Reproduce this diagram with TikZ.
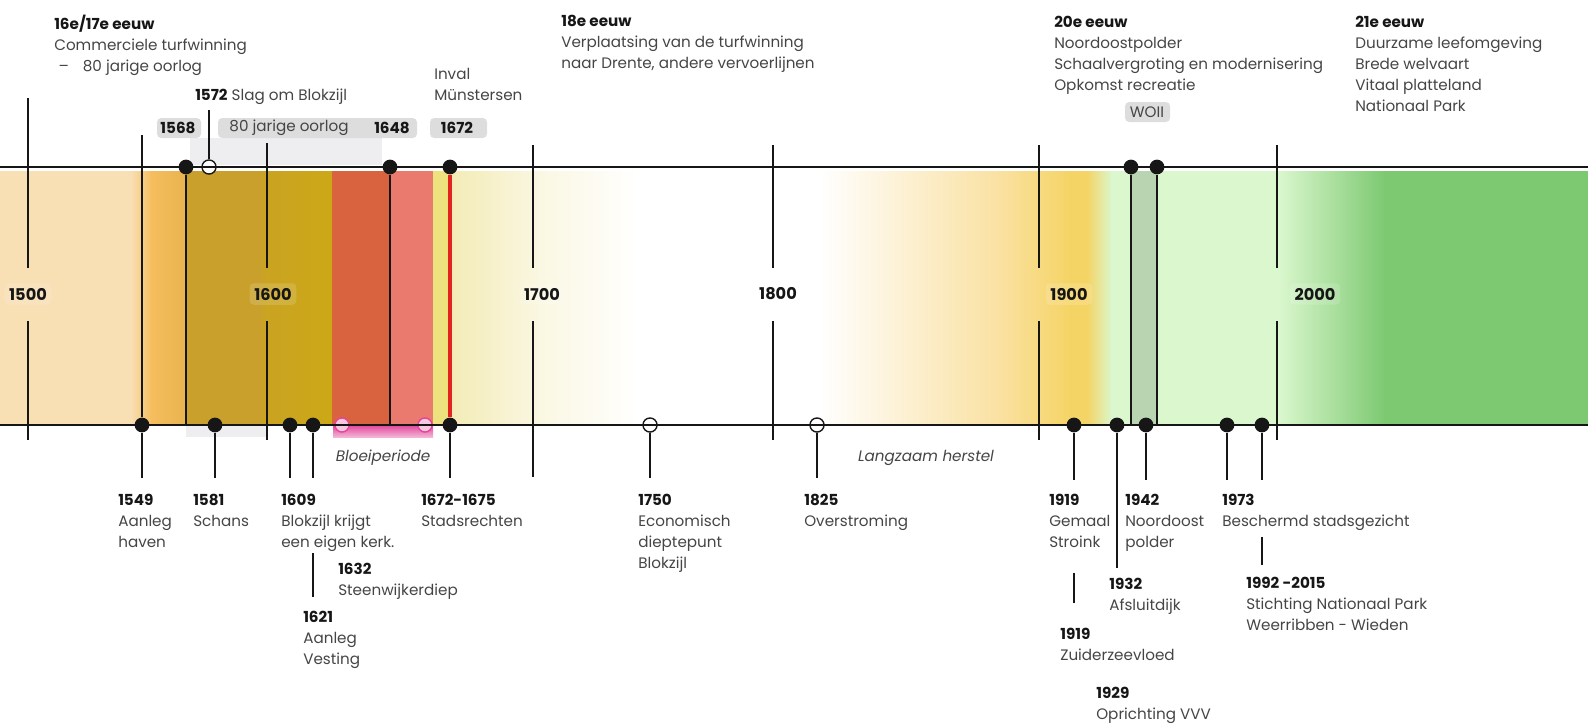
\documentclass[tikz,border=0pt]{standalone}
\usepackage{fontspec}
\setmainfont{Poppins}
\usetikzlibrary{calc}
\definecolor{ink}{HTML}{161616}
\definecolor{txt}{HTML}{454545}
\definecolor{pill}{HTML}{DDDDDD}
\definecolor{haze}{HTML}{EEEEF0}
\definecolor{bandA}{HTML}{F8DFB4}
\definecolor{bandB}{HTML}{F6BD5E}
\definecolor{bandC}{HTML}{C8A02B}
\definecolor{bandD}{HTML}{CCA816}
\definecolor{bandE}{HTML}{D9633F}
\definecolor{bandF}{HTML}{E97A6D}
\definecolor{bandG}{HTML}{EEE27E}
\definecolor{bandH}{HTML}{F3EBB6}
\definecolor{bandI}{HTML}{FAE1A2}
\definecolor{bandJ}{HTML}{F5D466}
\definecolor{bandK}{HTML}{DAF7CD}
\definecolor{bandL}{HTML}{B8D4B1}
\definecolor{bandM}{HTML}{7DC972}
\definecolor{warred}{HTML}{E2231F}
\definecolor{bloei}{HTML}{E2469A}
\newcommand{\jaar}[1]{{\bfseries\color{ink}#1}}

\begin{document}
\begin{tikzpicture}[x=0.025cm, y=-0.025cm, font=\fontsize{10.8}{15}\selectfont,
  dot/.style={circle, fill=ink, minimum size=10.5pt, inner sep=0},
  ring/.style={circle, draw=ink, fill=white, line width=1pt, minimum size=10pt,
    inner sep=0},
  bring/.style={circle, draw=bloei, fill=bloei!30, line width=1pt,
    minimum size=10pt, inner sep=0},
  stem/.style={draw=ink, line width=1.1pt},
  mainline/.style={draw=ink, line width=1.4pt},
  lbl/.style={anchor=north west, align=left, inner sep=0, text=txt},
  cent/.style={font=\fontsize{11.5}{14}\selectfont\bfseries, text=ink,
    fill=white, fill opacity=0.15, text opacity=1, rounded corners=3pt},
]

\def\ytop{167}   % upper time line
\def\ybot{425}   % lower time line

\useasboundingbox (0,0) rectangle (1588,726);

% ---- colour band
\foreach \xa/\xb/\ca/\cb in {%
  0/132/bandA/bandA, 131/152/bandA/bandB, 151/186/bandB/bandB!70!bandC,
  185/263/bandC/bandC, 262/333/bandC!60!bandD/bandD, 332/390/bandE/bandE,
  389/434/bandF/bandF, 433/450/bandG/bandG, 449/540/bandH/bandH!40!white,
  539/640/bandH!40!white/white, 639/820/white/white, 819/1000/white/bandI,
  999/1070/bandI/bandJ, 1069/1088/bandJ/bandJ, 1087/1112/bandJ/bandK,
  1111/1131/bandK/bandK, 1130/1157/bandL/bandL, 1156/1280/bandK/bandK,
  1279/1385/bandK/bandM, 1384/1588/bandM/bandM%
}{
  \fill[left color=\ca, right color=\cb] (\xa,171) rectangle (\xb,423);
}

% ---- grey labels, 80 jarige oorlog and WOII
\fill[haze] (190,138) rectangle (382,165);
\fill[haze] (186,426) rectangle (267,437);
\fill[pill, rounded corners=3pt] (157,118) rectangle (201,138);
\fill[pill, rounded corners=3pt] (218,118) rectangle (417,138);
\fill[pill, rounded corners=3pt] (430,118) rectangle (487,138);
\fill[pill, rounded corners=3pt] (1125,102) rectangle (1170,122);
\node (p1568) at (178,128) {\jaar{1568}};
\node[text=txt] (p80) at (289,128) {80 jarige oorlog};
\node (p1648) at (392,128) {\jaar{1648}};
\node (p1672) at (457,128) {\jaar{1672}};
\node[text=txt] (pwo) at (1147,112) {WOII};

% ---- bloeiperiode bar
\shade[top color=bloei, bottom color=bloei!40] (333,425) rectangle (433,437);

% ---- century ticks
\foreach \x/\a/\b/\lx/\yy in {28/98/440/28/1500, 267/143/440/273/1600,
  533/145/477/542/1700, 773/145/440/778/1800, 1039/145/440/1069/1900,
  1277/145/440/1315/2000}{
  \draw[stem] (\x,\a) -- (\x,268) (\x,321) -- (\x,\b);
  \node[cent] (c\yy) at (\lx,294) {\yy};
}

% ---- events on the upper line (1 filled, 2 open)
\foreach \x/\n/\k in {186/1568/1, 209/1572/2, 390/1648/1, 450/1672/1,
  1131/1940/1, 1157/1945/1}{
  \ifnum\k=1
    \node[dot] (t\n) at (\x,\ytop) {};
  \else
    \node[ring] (t\n) at (\x,\ytop) {};
  \fi
}

% ---- events on the lower line
\foreach \x/\n/\k/\e in {142/1549/1/478, 215/1581/1/478, 290/1609/1/478,
  313/1621/1/478, 450/1672/1/478, 650/1750/2/478, 817/1825/2/478,
  1074/1919/1/480, 1117/1932/1/568, 1146/1942/1/480, 1227/1973/1/480,
  1262/1992/1/480}{
  \ifnum\k=1
    \node[dot] (b\n) at (\x,\ybot) {};
  \else
    \node[ring] (b\n) at (\x,\ybot) {};
  \fi
  \coordinate (e\n) at (\x,\e);
}
\node[bring] (bl1) at (342,\ybot) {};
\node[bring] (bl2) at (425,\ybot) {};

% ---- the two time lines
\coordinate (tl) at (0,\ytop);  \coordinate (tr) at (1588,\ytop);
\coordinate (bl) at (0,\ybot);  \coordinate (br) at (1588,\ybot);
\draw[mainline] (tl) -- (tr);
\draw[mainline] (bl) -- (br);

% ---- stems
\foreach \n in {1549,1581,1609,1621,1672,1750,1825,1919,1932,1942,1973,1992}
  \draw[stem] (b\n) -- (e\n);
\coordinate (u1549) at (142,135);
\draw[stem] (u1549) -- (b1549);
\coordinate (s1572) at (209,110);
\draw[stem] (t1572) -- (s1572);
\coordinate (v1568) at (186,\ybot);
\coordinate (v1648) at (390,\ybot);
\coordinate (v1940) at (1131,\ybot);
\coordinate (v1945) at (1157,\ybot);
\draw[stem] (t1568) -- (v1568);
\draw[stem] (t1648) -- (v1648);
\draw[stem] (t1940) -- (v1940);
\draw[stem] (t1945) -- (v1945);
\draw[warred, line width=2.4pt] (t1672) -- (b1672);
\coordinate (k1621a) at (313,553);  \coordinate (k1621b) at (313,597);
\coordinate (k1919a) at (1074,573); \coordinate (k1919b) at (1074,603);
\coordinate (k1992a) at (1262,537); \coordinate (k1992b) at (1262,565);
\draw[stem] (k1621a) -- (k1621b);
\draw[stem] (k1919a) -- (k1919b);
\draw[stem] (k1992a) -- (k1992b);

% ---- headers per century
\node[lbl] (h16) at (54,15)
  {\jaar{16e/17e eeuw}\\Commerciele turfwinning\\\kern3pt–\kern10pt80 jarige oorlog};
\node[lbl] (h18) at (561,15)
  {\jaar{18e eeuw}\\Verplaatsing van de turfwinning\\naar Drente, andere vervoerlijnen};
\node[lbl] (h20) at (1054,16)
  {\jaar{20e eeuw}\\Noordoostpolder\\Schaalvergroting en modernisering\\Opkomst recreatie};
\node[lbl] (h21) at (1355,16)
  {\jaar{21e eeuw}\\Duurzame leefomgeving\\Brede welvaart\\Vitaal platteland\\Nationaal Park};
\node[lbl] (l1572) at (195,89) {\jaar{1572} Slag om Blokzijl};
\node[lbl] (linval) at (434,68) {Inval\\Münstersen};

% ---- event labels
\node[lbl] (l1549) at (118,494) {\jaar{1549}\\Aanleg\\haven};
\node[lbl] (l1581) at (193,494) {\jaar{1581}\\Schans};
\node[lbl] (l1609) at (281,494) {\jaar{1609}\\Blokzijl krijgt\\een eigen kerk.};
\node[lbl] (l1632) at (338,563) {\jaar{1632}\\Steenwijkerdiep};
\node[lbl] (l1621) at (303,611) {\jaar{1621}\\Aanleg\\Vesting};
\node[lbl] (l1672) at (421,494) {\jaar{1672-1675}\\Stadsrechten};
\node[lbl] (l1750) at (638,494) {\jaar{1750}\\Economisch\\dieptepunt\\Blokzijl};
\node[lbl] (l1825) at (804,494) {\jaar{1825}\\Overstroming};
\node[lbl] (l1919) at (1049,494) {\jaar{1919}\\Gemaal\\Stroink};
\node[lbl] (l1919z) at (1060,628) {\jaar{1919}\\Zuiderzeevloed};
\node[lbl] (l1929) at (1096,687) {\jaar{1929}\\Oprichting VVV};
\node[lbl] (l1932) at (1109,578) {\jaar{1932}\\Afsluitdijk};
\node[lbl] (l1942) at (1125,494) {\jaar{1942}\\Noordoost\\polder};
\node[lbl] (l1973) at (1222,494) {\jaar{1973}\\Beschermd stadsgezicht};
\node[lbl] (l1992) at (1246,577)
  {\jaar{1992 -2015}\\Stichting Nationaal Park\\Weerribben - Wieden};
\node[text=txt, font=\fontsize{10.8}{15}\selectfont\itshape] (tbloei) at (383,458)
  {Bloeiperiode};
\node[text=txt, font=\fontsize{10.8}{15}\selectfont\itshape] (therstel) at (926,458)
  {Langzaam herstel};

\end{tikzpicture}
\end{document}
